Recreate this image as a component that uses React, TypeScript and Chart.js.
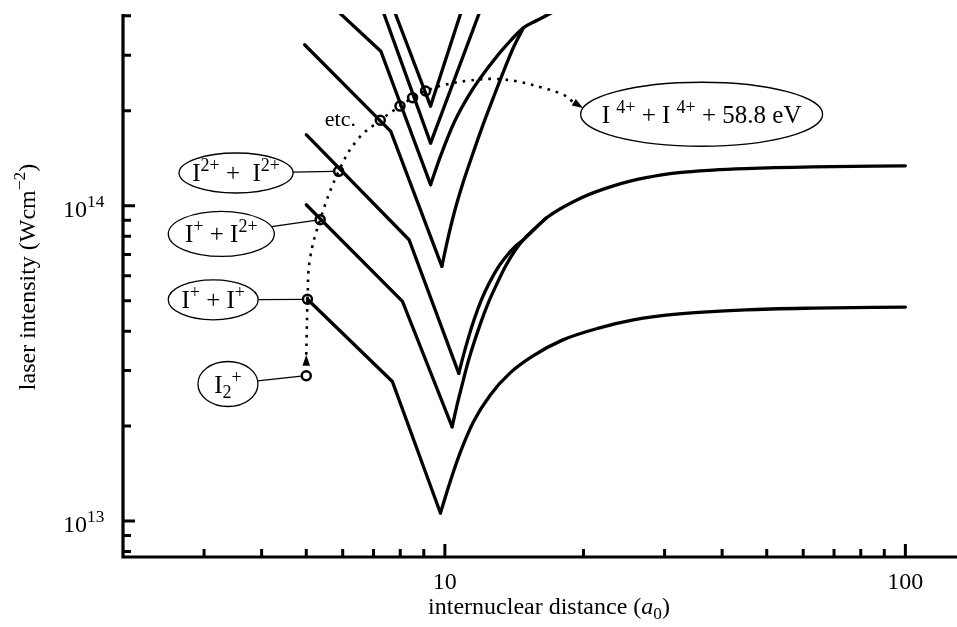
import React, { useEffect, useRef } from "react";
import { Chart, registerables } from "chart.js";

Chart.register(...registerables);

// ---- Data: internuclear distance R (a0) and laser intensity I (W/cm^2) ----
// I+ + I+
const A_LEFT_R = [5.03, 7.69, 9.78];
const A_LEFT_I = [5.05e13, 2.77e13, 1.06e13];
const A_RIGHT_R = [9.78, 10.28, 10.81, 11.53, 12.55, 13.86, 15.54, 18.04, 21.68, 25.68, 32.28, 45.04, 62.85, 100];
const A_RIGHT_I = [1.06e13, 1.34e13, 1.656e13, 2.062e13, 2.512e13, 2.95e13, 3.34e13, 3.754e13, 4.1e13, 4.346e13, 4.54e13, 4.676e13, 4.734e13, 4.769e13];
// I+ + I2+
const B_LEFT_R = [5.0, 8.09, 10.37];
const B_LEFT_I = [1.007e14, 4.97e13, 1.99e13];
const B_RIGHT_R = [10.37, 10.63, 10.9, 11.17, 11.51, 11.92, 12.4, 12.97, 13.56, 14.19, 14.81, 15.67, 16.63, 19.8, 23.32, 27.35, 32.23, 38.15, 45.0, 62.8, 100];
const B_RIGHT_I = [1.99e13, 2.335e13, 2.702e13, 3.105e13, 3.594e13, 4.19e13, 4.886e13, 5.653e13, 6.45e13, 7.197e13, 7.8e13, 8.45e13, 9.16e13, 1.06e14, 1.158e14, 1.227e14, 1.273e14, 1.297e14, 1.311e14, 1.327e14, 1.338e14];
// I2+ + I2+
const C_LEFT_R = [5.0, 8.36, 10.72];
const C_LEFT_I = [1.68e14, 7.8e13, 2.94e13];
const C_RIGHT_R = [10.72, 10.95, 11.23, 11.57, 11.98, 12.46, 13.03, 13.63, 14.19, 14.81, 15.67, 16.63];
const C_RIGHT_I = [2.94e13, 3.316e13, 3.782e13, 4.346e13, 4.995e13, 5.653e13, 6.355e13, 6.94e13, 7.41e13, 7.8e13, 8.45e13, 9.16e13];
// higher charge-state channels
const D_LEFT_R = [4.96, 7.63, 9.85];
const D_LEFT_I = [3.24e14, 1.72e14, 6.42e13];
const D_RIGHT_R = [9.85, 10.16, 10.52, 10.95, 11.46, 12.04, 12.72, 13.43, 14.12, 14.81];
const D_RIGHT_I = [6.42e13, 7.91e13, 9.71e13, 1.183e14, 1.441e14, 1.769e14, 2.186e14, 2.683e14, 3.198e14, 3.665e14];
const E_LEFT_R = [5.64, 7.26, 9.31];
const E_LEFT_I = [4.35e14, 3.09e14, 1.166e14];
const E_RIGHT_R = [9.31, 9.78, 10.46, 11.36, 12.55, 13.63, 14.81, 15.83, 16.77, 17.92];
const E_RIGHT_I = [1.166e14, 1.434e14, 1.83e14, 2.28e14, 2.8e14, 3.24e14, 3.665e14, 3.867e14, 4.04e14, 4.25e14];
const F_LEFT_R = [7.25, 9.31];
const F_LEFT_I = [4.35e14, 1.58e14];
const F_RIGHT_R = [9.31, 12.07];
const F_RIGHT_I = [1.58e14, 4.35e14];
const G_LEFT_R = [7.67, 9.31];
const G_LEFT_I = [4.35e14, 2.07e14];
const G_RIGHT_R = [9.31, 10.98];
const G_RIGHT_I = [2.07e14, 4.35e14];

// transition markers
const MARK_R = [5.03, 5.36, 5.88, 7.24, 7.99, 8.51, 9.08];
const MARK_I = [5.05e13, 9.03e13, 1.285e14, 1.866e14, 2.07e14, 2.2e14, 2.31e14];
const ION_R = [5.0];
const ION_I = [2.89e13];

// dotted transition path
const PATH1_R = [5.0, 5.03];
const PATH1_I = [3.37e13, 5.05e13];
const PATH2_R = [5.03, 5.09, 5.36, 5.88, 6.46, 7.24, 7.99, 8.51, 9.08, 10.03, 11.17, 12.65, 14.33, 16.23, 18.07, 18.93];
const PATH2_I = [5.05e13, 6.74e13, 9.03e13, 1.285e14, 1.62e14, 1.866e14, 2.07e14, 2.2e14, 2.31e14, 2.42e14, 2.49e14, 2.525e14, 2.48e14, 2.37e14, 2.25e14, 2.14e14];

// axes
const X_MIN = 2;
const X_MAX = 125;
const Y_MIN = 7.69e12;
const Y_MAX = 4.055e14;
const X_MAJOR = [10, 100];
const X_MINOR = [3, 4, 5, 6, 7, 8, 9, 20, 30, 40, 50, 60, 70, 80, 90];
const Y_MAJOR = [1e13, 1e14];
const Y_MAJOR_EXP = ["13", "14"];
const Y_MINOR = [8e12, 9e12, 2e13, 3e13, 4e13, 5e13, 6e13, 7e13, 8e13, 9e13, 2e14, 3e14, 4e14];

type Seg = { t: string; s?: "sup" | "sub"; i?: boolean };

// labels (centres in data coordinates)
const LABELS: { R: number; I: number; rx: number; ry: number; text: Seg[]; toR?: number; toI?: number }[] = [
  { R: 3.38, I: 2.72e13, rx: 30, ry: 22.5, text: [{ t: "I" }, { t: "2", s: "sub" }, { t: "+", s: "sup" }], toR: 5.0, toI: 2.89e13 },
  { R: 3.14, I: 5.03e13, rx: 45, ry: 20, text: [{ t: "I" }, { t: "+", s: "sup" }, { t: " + I" }, { t: "+", s: "sup" }], toR: 5.03, toI: 5.05e13 },
  { R: 3.27, I: 8.14e13, rx: 53, ry: 22.5, text: [{ t: "I" }, { t: "+", s: "sup" }, { t: " + I" }, { t: "2+", s: "sup" }], toR: 5.36, toI: 9.03e13 },
  { R: 3.52, I: 1.27e14, rx: 57, ry: 20, text: [{ t: "I" }, { t: "2+", s: "sup" }, { t: " +  I" }, { t: "2+", s: "sup" }], toR: 5.88, toI: 1.285e14 },
  { R: 36.1, I: 1.95e14, rx: 121, ry: 32, text: [{ t: "I " }, { t: "4+", s: "sup" }, { t: " + I " }, { t: "4+", s: "sup" }, { t: " + 58.8 eV" }] },
];
const ETC_R = 5.93;
const ETC_I = 1.89e14;

const ARROWS = [
  { fromR: 5.0, fromI: 3.08e13, toR: 5.0, toI: 3.37e13 },
  { fromR: 18.93, fromI: 2.14e14, toR: 19.96, toI: 2.04e14 },
];

const FONT = '"Liberation Serif", "Times New Roman", serif';

function pts(R: number[], I: number[]) {
  return R.map((r, i) => ({ x: r, y: I[i] }));
}

function segFont(size: number, s: Seg) {
  const sz = s.s ? size * 0.72 : size;
  return `${s.i ? "italic " : ""}${sz}px ${FONT}`;
}
function richWidth(ctx: CanvasRenderingContext2D, segs: Seg[], size: number) {
  let w = 0;
  for (const s of segs) {
    ctx.font = segFont(size, s);
    w += ctx.measureText(s.t).width;
  }
  return w;
}
function drawRich(ctx: CanvasRenderingContext2D, segs: Seg[], x: number, y: number, size: number, align: "left" | "center" | "right") {
  const w = richWidth(ctx, segs, size);
  let cx = align === "center" ? x - w / 2 : align === "right" ? x - w : x;
  ctx.textAlign = "left";
  ctx.textBaseline = "alphabetic";
  for (const s of segs) {
    ctx.font = segFont(size, s);
    const dy = s.s === "sup" ? -size * 0.4 : s.s === "sub" ? size * 0.22 : 0;
    ctx.fillText(s.t, cx, y + dy);
    cx += ctx.measureText(s.t).width;
  }
}

const decorPlugin = {
  id: "decor",
  afterDraw(chart: any) {
    const ctx: CanvasRenderingContext2D = chart.ctx;
    const xs = chart.scales.x;
    const ys = chart.scales.y;
    const ca = chart.chartArea;
    const W = chart.width;
    ctx.save();
    ctx.fillStyle = "#000";
    ctx.strokeStyle = "#000";

    // axis lines
    ctx.lineWidth = 3.2;
    ctx.lineCap = "butt";
    ctx.beginPath();
    ctx.moveTo(ca.left - 1.6, ca.bottom);
    ctx.lineTo(W, ca.bottom);
    ctx.moveTo(ca.left, ca.bottom + 1.6);
    ctx.lineTo(ca.left, ca.top);
    ctx.stroke();

    // ticks (drawn inside the plot)
    ctx.lineWidth = 3;
    ctx.beginPath();
    for (const v of X_MINOR) {
      const p = xs.getPixelForValue(v);
      ctx.moveTo(p, ca.bottom);
      ctx.lineTo(p, ca.bottom - 8);
    }
    for (const v of X_MAJOR) {
      const p = xs.getPixelForValue(v);
      ctx.moveTo(p, ca.bottom);
      ctx.lineTo(p, ca.bottom - 13);
    }
    for (const v of Y_MINOR) {
      const p = ys.getPixelForValue(v);
      ctx.moveTo(ca.left, p);
      ctx.lineTo(ca.left + 8, p);
    }
    for (const v of Y_MAJOR) {
      const p = ys.getPixelForValue(v);
      ctx.moveTo(ca.left, p);
      ctx.lineTo(ca.left + 12, p);
    }
    ctx.stroke();

    // tick labels
    ctx.font = `24px ${FONT}`;
    ctx.textAlign = "center";
    ctx.textBaseline = "alphabetic";
    for (const v of X_MAJOR) {
      ctx.fillText(String(v), xs.getPixelForValue(v), ca.bottom + 32);
    }
    Y_MAJOR.forEach((v, i) => {
      const p = ys.getPixelForValue(v);
      drawRich(ctx, [{ t: "10" }, { t: Y_MAJOR_EXP[i], s: "sup" }], 63, p + 11, 24, "left");
    });

    // axis titles
    drawRich(ctx, [{ t: "internuclear distance (" }, { t: "a", i: true }, { t: "0", s: "sub" }, { t: ")" }], 549, 614, 24, "center");
    ctx.save();
    ctx.translate(35, 277);
    ctx.rotate(-Math.PI / 2);
    drawRich(ctx, [{ t: "laser intensity (Wcm" }, { t: "\u22122", s: "sup" }, { t: ")" }], 0, 0, 24, "center");
    ctx.restore();

    // label ellipses + leader lines
    for (const L of LABELS) {
      const cx = xs.getPixelForValue(L.R);
      const cy = ys.getPixelForValue(L.I);
      ctx.lineWidth = 1.3;
      ctx.beginPath();
      ctx.ellipse(cx, cy, L.rx, L.ry, 0, 0, Math.PI * 2);
      ctx.fillStyle = "#fff";
      ctx.fill();
      ctx.stroke();
      if (L.toR !== undefined && L.toI !== undefined) {
        const tx = xs.getPixelForValue(L.toR);
        const ty = ys.getPixelForValue(L.toI);
        const dx = tx - cx;
        const dy = ty - cy;
        const t = 1 / Math.sqrt((dx / L.rx) ** 2 + (dy / L.ry) ** 2);
        const len = Math.hypot(dx, dy);
        ctx.beginPath();
        ctx.moveTo(cx + dx * t, cy + dy * t);
        ctx.lineTo(tx - (dx / len) * 5, ty - (dy / len) * 5);
        ctx.stroke();
      }
      ctx.fillStyle = "#000";
      drawRich(ctx, L.text, cx, cy + 8.5, 25, "center");
    }

    // etc.
    ctx.font = `22px ${FONT}`;
    ctx.textAlign = "center";
    ctx.textBaseline = "alphabetic";
    ctx.fillText("etc.", xs.getPixelForValue(ETC_R), ys.getPixelForValue(ETC_I) + 7);

    // arrowheads
    for (const a of ARROWS) {
      const x0 = xs.getPixelForValue(a.fromR);
      const y0 = ys.getPixelForValue(a.fromI);
      const x1 = xs.getPixelForValue(a.toR);
      const y1 = ys.getPixelForValue(a.toI);
      const ang = Math.atan2(y1 - y0, x1 - x0);
      const len = 11;
      const hw = 3.8;
      const bx = x1 - Math.cos(ang) * len;
      const by = y1 - Math.sin(ang) * len;
      ctx.beginPath();
      ctx.moveTo(x1, y1);
      ctx.lineTo(bx - Math.sin(ang) * hw, by + Math.cos(ang) * hw);
      ctx.lineTo(bx + Math.sin(ang) * hw, by - Math.cos(ang) * hw);
      ctx.closePath();
      ctx.fill();
    }
    ctx.restore();
  },
};

function curve(R: number[], I: number[], smooth: boolean) {
  return {
    data: pts(R, I),
    borderColor: "#000",
    borderWidth: 3.3,
    pointRadius: 0,
    fill: false,
    tension: 0,
    cubicInterpolationMode: smooth ? "monotone" : "default",
    borderCapStyle: "round",
    borderJoinStyle: "miter",
    order: 3,
  };
}

export default function App() {
  const ref = useRef<HTMLCanvasElement>(null);
  useEffect(() => {
    document.body.style.margin = "0";
    const canvas = ref.current!;
    const datasets: any[] = [
      curve(A_LEFT_R, A_LEFT_I, false),
      curve(A_RIGHT_R, A_RIGHT_I, true),
      curve(B_LEFT_R, B_LEFT_I, false),
      curve(B_RIGHT_R, B_RIGHT_I, true),
      curve(C_LEFT_R, C_LEFT_I, false),
      curve(C_RIGHT_R, C_RIGHT_I, true),
      curve(D_LEFT_R, D_LEFT_I, false),
      curve(D_RIGHT_R, D_RIGHT_I, true),
      curve(E_LEFT_R, E_LEFT_I, false),
      curve(E_RIGHT_R, E_RIGHT_I, true),
      curve(F_LEFT_R, F_LEFT_I, false),
      curve(F_RIGHT_R, F_RIGHT_I, false),
      curve(G_LEFT_R, G_LEFT_I, false),
      curve(G_RIGHT_R, G_RIGHT_I, false),
      {
        data: pts(PATH1_R, PATH1_I),
        borderColor: "#000",
        borderWidth: 2.6,
        borderDash: [2.6, 6],
        pointRadius: 0,
        tension: 0,
        order: 2,
      },
      {
        data: pts(PATH2_R, PATH2_I),
        borderColor: "#000",
        borderWidth: 2.6,
        borderDash: [2.6, 6],
        pointRadius: 0,
        tension: 0.4,
        order: 2,
      },
      {
        data: pts(MARK_R, MARK_I),
        showLine: false,
        pointRadius: 4.5,
        pointBorderWidth: 2.5,
        pointBorderColor: "#000",
        pointBackgroundColor: "rgba(0,0,0,0)",
        order: 1,
      },
      {
        data: pts(ION_R, ION_I),
        showLine: false,
        pointRadius: 4.5,
        pointBorderWidth: 2.5,
        pointBorderColor: "#000",
        pointBackgroundColor: "#fff",
        order: 0,
      },
    ];
    const chart = new Chart(canvas, {
      type: "line",
      data: { datasets },
      options: {
        responsive: false,
        animation: false,
        devicePixelRatio: 1,
        layout: { padding: { left: 123, top: 14, right: 0, bottom: 70 } },
        plugins: { legend: { display: false }, tooltip: { enabled: false }, title: { display: false } },
        events: [],
        scales: {
          x: { type: "logarithmic", min: X_MIN, max: X_MAX, display: false },
          y: { type: "logarithmic", min: Y_MIN, max: Y_MAX, display: false },
        },
      },
      plugins: [decorPlugin],
    } as any);
    return () => chart.destroy();
  }, []);
  return (
    <div style={{ width: 957, height: 627, background: "#fff" }}>
      <canvas ref={ref} width={957} height={627} style={{ display: "block", width: 957, height: 627 }} />
    </div>
  );
}
